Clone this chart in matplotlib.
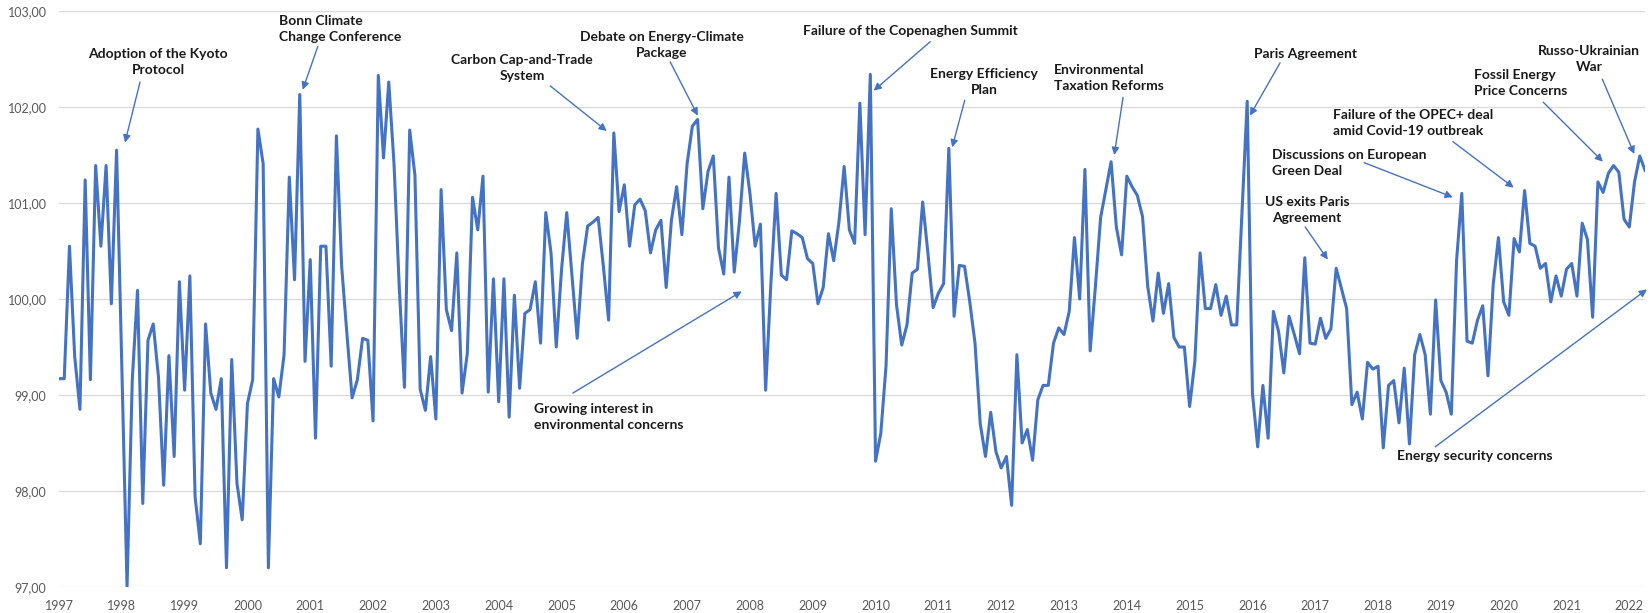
import numpy as np
import matplotlib.pyplot as plt
from matplotlib.ticker import FuncFormatter

plt.rcParams['font.family'] = ['Lato', 'DejaVu Sans']

# monthly index values, Jan 1997 onwards
index_values = [
    99.17, 99.17, 100.55, 99.4, 98.85, 101.24, 99.16, 101.39, 100.55, 101.39,
    99.95, 101.55, 99.3, 97.0, 99.16, 100.09, 97.87, 99.57, 99.74, 99.19,
    98.06, 99.41, 98.36, 100.18, 99.05, 100.24, 97.94, 97.45, 99.74, 99.02,
    98.85, 99.17, 97.2, 99.37, 98.08, 97.7, 98.91, 99.16, 101.77, 101.41,
    97.2, 99.17, 98.98, 99.42, 101.27, 100.2, 102.13, 99.35, 100.41, 98.55,
    100.55, 100.55, 99.3, 101.7, 100.34, 99.64, 98.97, 99.16, 99.59, 99.57,
    98.73, 102.33, 101.47, 102.26, 101.41, 100.13, 99.08, 101.76, 101.29, 99.06,
    98.84, 99.4, 98.75, 101.14, 99.89, 99.67, 100.48, 99.02, 99.43, 101.06,
    100.72, 101.28, 99.03, 100.21, 98.93, 100.21, 98.77, 100.04, 99.07, 99.85,
    99.89, 100.18, 99.54, 100.9, 100.48, 99.5, 100.3, 100.9, 100.25, 99.59,
    100.37, 100.76, 100.8, 100.85, 100.34, 99.78, 101.73, 100.91, 101.19, 100.55,
    100.98, 101.04, 100.92, 100.48, 100.72, 100.82, 100.12, 100.82, 101.17, 100.67,
    101.41, 101.8, 101.87, 100.94, 101.33, 101.49, 100.53, 100.26, 101.27, 100.28,
    100.81, 101.52, 101.1, 100.55, 100.78, 99.05, 100.16, 101.1, 100.25, 100.2,
    100.71, 100.68, 100.64, 100.42, 100.37, 99.95, 100.12, 100.68, 100.4, 100.8,
    101.38, 100.72, 100.58, 102.04, 100.67, 102.34, 98.31, 98.6, 99.3, 100.94,
    99.94, 99.52, 99.73, 100.27, 100.31, 101.01, 100.48, 99.91, 100.06, 100.16,
    101.57, 99.82, 100.35, 100.34, 99.97, 99.54, 98.7, 98.36, 98.82, 98.41,
    98.24, 98.36, 97.85, 99.42, 98.5, 98.64, 98.32, 98.95, 99.1, 99.1,
    99.54, 99.7, 99.63, 99.87, 100.64, 100.0, 101.35, 99.46, 100.13, 100.85,
    101.14, 101.43, 100.75, 100.46, 101.28, 101.17, 101.08, 100.86, 100.13, 99.77,
    100.27, 99.85, 100.16, 99.6, 99.5, 99.5, 98.88, 99.35, 100.48, 99.9,
    99.9, 100.15, 99.83, 100.03, 99.73, 99.73, 100.89, 102.06, 99.02, 98.46,
    99.1, 98.55, 99.87, 99.66, 99.23, 99.82, 99.63, 99.43, 100.43, 99.54,
    99.53, 99.8, 99.59, 99.69, 100.32, 100.11, 99.9, 98.9, 99.03, 98.75,
    99.34, 99.27, 99.3, 98.45, 99.1, 99.15, 98.71, 99.28, 98.49, 99.42,
    99.63, 99.42, 98.8, 99.99, 99.15, 99.03, 98.8, 100.4, 101.1, 99.56,
    99.54, 99.78, 99.93, 99.2, 100.15, 100.64, 99.97, 99.83, 100.63, 100.49,
    101.13, 100.58, 100.55, 100.32, 100.37, 99.97, 100.24, 100.03, 100.31, 100.37,
    100.03, 100.79, 100.62, 99.81, 101.22, 101.11, 101.31, 101.39, 101.32, 100.83,
    100.75, 101.22, 101.49, 101.34,
]
start_year = 1997
year_labels = list(range(1997, 2023))
y_ticks = [97, 98, 99, 100, 101, 102, 103]

# (text, text pos, alignment, arrow tail, arrow tip)
notes = [
    ("Adoption of the Kyoto\nProtocol", (1998.58, 102.47), 'center', (1998.29, 102.26), (1998.05, 101.63)),
    ("Bonn Climate\nChange Conference", (2000.50, 102.81), 'left', (2001.12, 102.63), (2000.88, 102.18)),
    ("Carbon Cap-and-Trade\nSystem", (2004.37, 102.41), 'center', (2004.82, 102.22), (2005.72, 101.75)),
    ("Debate on Energy-Climate\nPackage", (2006.60, 102.65), 'center', (2006.73, 102.47), (2007.17, 101.91)),
    ("Failure of the Copenaghen Summit", (2010.55, 102.79), 'center', (2010.87, 102.68), (2009.97, 102.17)),
    ("Energy Efficiency\nPlan", (2011.73, 102.26), 'center', (2011.42, 102.07), (2011.22, 101.58)),
    ("Environmental\nTaxation Reforms", (2012.84, 102.30), 'left', (2013.94, 102.10), (2013.80, 101.50)),
    ("Paris Agreement", (2016.84, 102.55), 'center', (2016.44, 102.46), (2015.96, 101.91)),
    ("Failure of the OPEC+ deal\namid Covid-19 outbreak", (2017.28, 101.83), 'left', (2019.19, 101.64), (2020.16, 101.16)),
    ("Discussions on European\nGreen Deal", (2016.31, 101.42), 'left', (2017.78, 101.42), (2019.19, 101.06)),
    ("US exits Paris\nAgreement", (2016.87, 100.93), 'center', (2016.84, 100.75), (2017.20, 100.41)),
    ("Fossil Energy\nPrice Concerns", (2019.53, 102.25), 'left', (2020.63, 102.05), (2021.58, 101.43)),
    ("Russo-Ukrainian\nWar", (2021.36, 102.50), 'center', (2021.57, 102.29), (2022.08, 101.51)),
    ("Growing interest in\nenvironmental concerns", (2004.56, 98.77), 'left', (2005.18, 99.02), (2007.87, 100.08)),
    ("Energy security concerns", (2019.54, 98.36), 'center', (2018.91, 98.46), (2022.28, 100.10)),
]

blue = '#4472C4'
x = start_year + np.arange(len(index_values)) / 12

fig = plt.figure(figsize=(16.52, 6.13), dpi=100)
ax = fig.add_axes([59 / 1652, 26 / 613, 1586 / 1652, 576 / 613])

ax.plot(x, index_values, color=blue, lw=2.2, solid_joinstyle='round', zorder=3)

ax.set_xlim(x[0], x[-1])
ax.set_ylim(97, 103)
ax.set_yticks(y_ticks)
ax.yaxis.set_major_formatter(FuncFormatter(lambda v, p: f"{v:.2f}".replace('.', ',')))
ax.set_xticks(year_labels)
ax.set_xticklabels([str(y) for y in year_labels])
ax.tick_params(axis='both', length=0, labelsize=9, labelcolor='#595959')
ax.tick_params(axis='y', pad=9)
ax.tick_params(axis='x', pad=9)
ax.grid(axis='y', color='#D9D9D9', lw=0.9)
ax.set_axisbelow(True)
for s in ax.spines.values():
    s.set_visible(False)

for txt, pos, ha, tail, tip in notes:
    ax.text(pos[0], pos[1], txt, ha=ha, va='center', fontsize=10, fontweight='bold',
            color='#1a1a1a', linespacing=1.4, zorder=4)
    ax.annotate('', xy=tip, xytext=tail, annotation_clip=False,
                arrowprops=dict(arrowstyle='-|>', color=blue, lw=1.0, mutation_scale=11,
                                shrinkA=0, shrinkB=0))

fig.savefig('out.png', dpi=100)
